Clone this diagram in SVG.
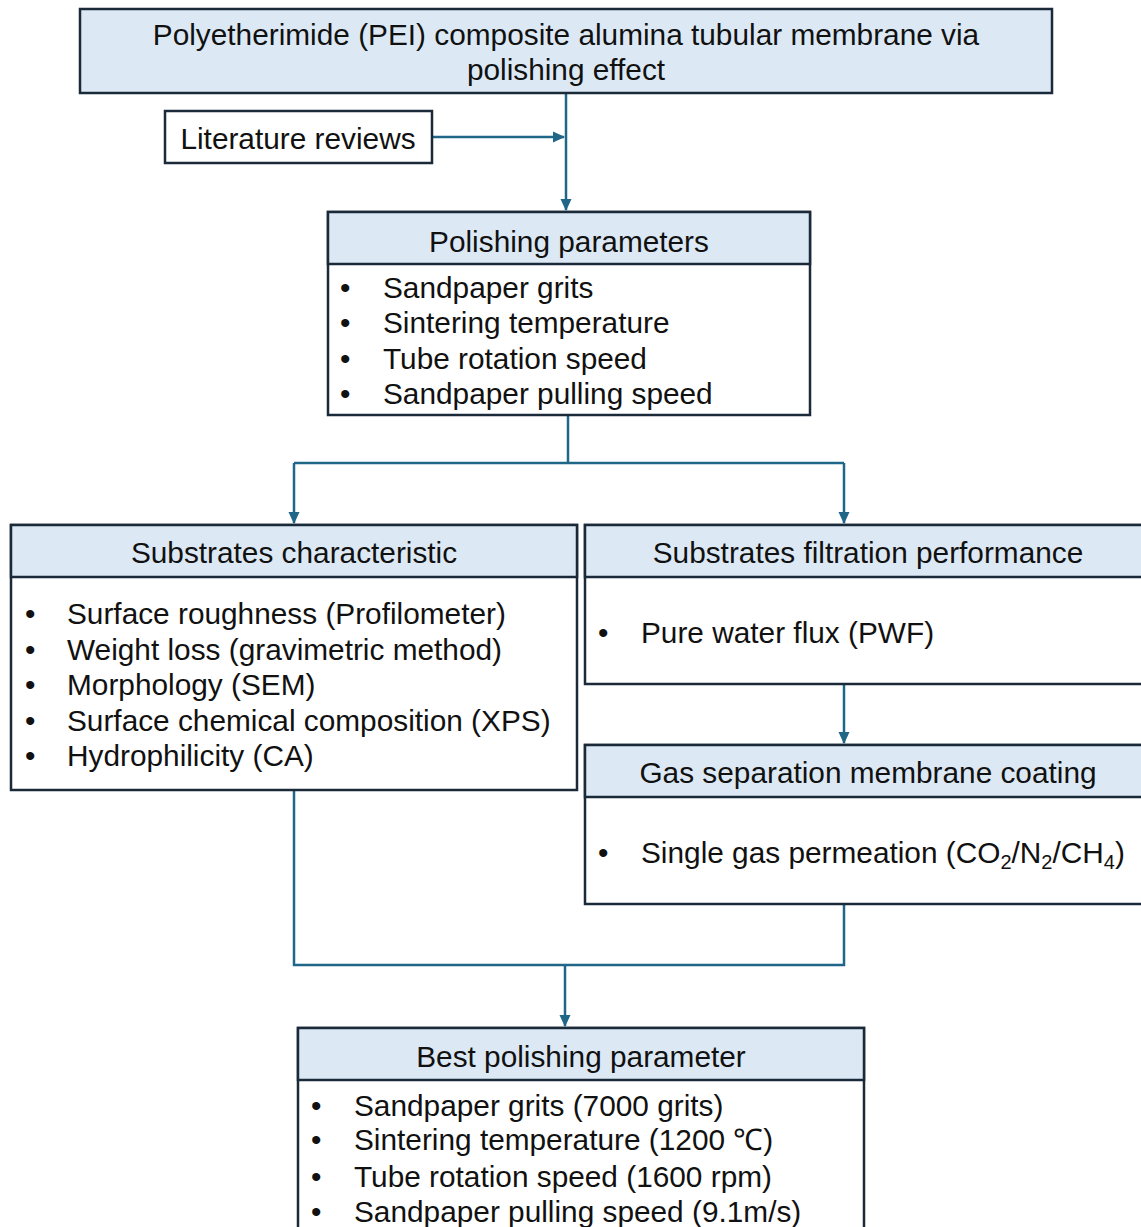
<svg xmlns="http://www.w3.org/2000/svg" width="1141" height="1227" viewBox="0 0 1141 1227">
<style>
text{font-family:"Liberation Sans",Arial,sans-serif;font-size:29.8px;fill:#111}
.c{text-anchor:middle}
.box{fill:#fff;stroke:#1b2a38;stroke-width:2.5}
.hd{fill:#dce9f5;stroke:#1b2a38;stroke-width:2.5}
.ln{fill:none;stroke:#1f6688;stroke-width:2.5}
</style>
<defs>
<marker id="ah" markerWidth="12" markerHeight="12" refX="11" refY="6" orient="auto" markerUnits="userSpaceOnUse"><path d="M0,0.5 L12,6 L0,11.5 Z" fill="#1f6688"/></marker>
</defs>
<g id="connectors">
<path class="ln" d="M566,93 V210" marker-end="url(#ah)"/>
<path class="ln" d="M432,137 H564" marker-end="url(#ah)"/>
<path class="ln" d="M568,415 V463 M294,463 H844"/>
<path class="ln" d="M294,463 V523" marker-end="url(#ah)"/>
<path class="ln" d="M844,463 V523" marker-end="url(#ah)"/>
<path class="ln" d="M844,684 V743" marker-end="url(#ah)"/>
<path class="ln" d="M294,790 V965 H844 V904"/>
<path class="ln" d="M565,965 V1026" marker-end="url(#ah)"/>
</g>
<g id="n-title">
<rect class="hd" x="80" y="9" width="972" height="84"/>
<text class="c" x="566" y="45">Polyetherimide (PEI) composite alumina tubular membrane via</text>
<text class="c" x="566" y="80">polishing effect</text>
</g>
<g id="n-lit">
<rect class="box" x="165" y="111" width="267" height="52"/>
<text class="c" x="298" y="149">Literature reviews</text>
</g>
<g id="n-params">
<rect class="box" x="328" y="212" width="482" height="203"/>
<rect class="hd" x="328" y="212" width="482" height="52"/>
<text class="c" x="569" y="252">Polishing parameters</text>
<text x="340" y="298">•</text><text x="383" y="298">Sandpaper grits</text>
<text x="340" y="333">•</text><text x="383" y="333">Sintering temperature</text>
<text x="340" y="369">•</text><text x="383" y="369">Tube rotation speed</text>
<text x="340" y="404">•</text><text x="383" y="404">Sandpaper pulling speed</text>
</g>
<g id="n-char">
<rect class="box" x="11" y="525" width="566" height="265"/>
<rect class="hd" x="11" y="525" width="566" height="52"/>
<text class="c" x="294" y="563">Substrates characteristic</text>
<text x="25" y="624">•</text><text x="67" y="624">Surface roughness (Profilometer)</text>
<text x="25" y="660">•</text><text x="67" y="660">Weight loss (gravimetric method)</text>
<text x="25" y="695">•</text><text x="67" y="695">Morphology (SEM)</text>
<text x="25" y="731">•</text><text x="67" y="731">Surface chemical composition (XPS)</text>
<text x="25" y="766">•</text><text x="67" y="766">Hydrophilicity (CA)</text>
</g>
<g id="n-filt">
<rect class="box" x="585" y="525" width="570" height="159"/>
<rect class="hd" x="585" y="525" width="570" height="52"/>
<text class="c" x="868" y="563">Substrates filtration performance</text>
<text x="598" y="643">•</text><text x="641" y="643">Pure water flux (PWF)</text>
</g>
<g id="n-gas">
<rect class="box" x="585" y="745" width="570" height="159"/>
<rect class="hd" x="585" y="745" width="570" height="52"/>
<text class="c" x="868" y="783">Gas separation membrane coating</text>
<text x="598" y="863">•</text><text x="641" y="863">Single gas permeation (CO<tspan font-size="20" dy="6">2</tspan><tspan dy="-6">/N</tspan><tspan font-size="20" dy="6">2</tspan><tspan dy="-6">/CH</tspan><tspan font-size="20" dy="6">4</tspan><tspan dy="-6">)</tspan></text>
</g>
<g id="n-best">
<rect class="box" x="298" y="1028" width="566" height="210"/>
<rect class="hd" x="298" y="1028" width="566" height="52"/>
<text class="c" x="581" y="1067">Best polishing parameter</text>
<text x="311" y="1116">•</text><text x="354" y="1116">Sandpaper grits (7000 grits)</text>
<text x="311" y="1150">•</text><text x="354" y="1150">Sintering temperature (1200 ℃)</text>
<text x="311" y="1187">•</text><text x="354" y="1187">Tube rotation speed (1600 rpm)</text>
<text x="311" y="1222">•</text><text x="354" y="1222">Sandpaper pulling speed (9.1m/s)</text>
</g>
</svg>
